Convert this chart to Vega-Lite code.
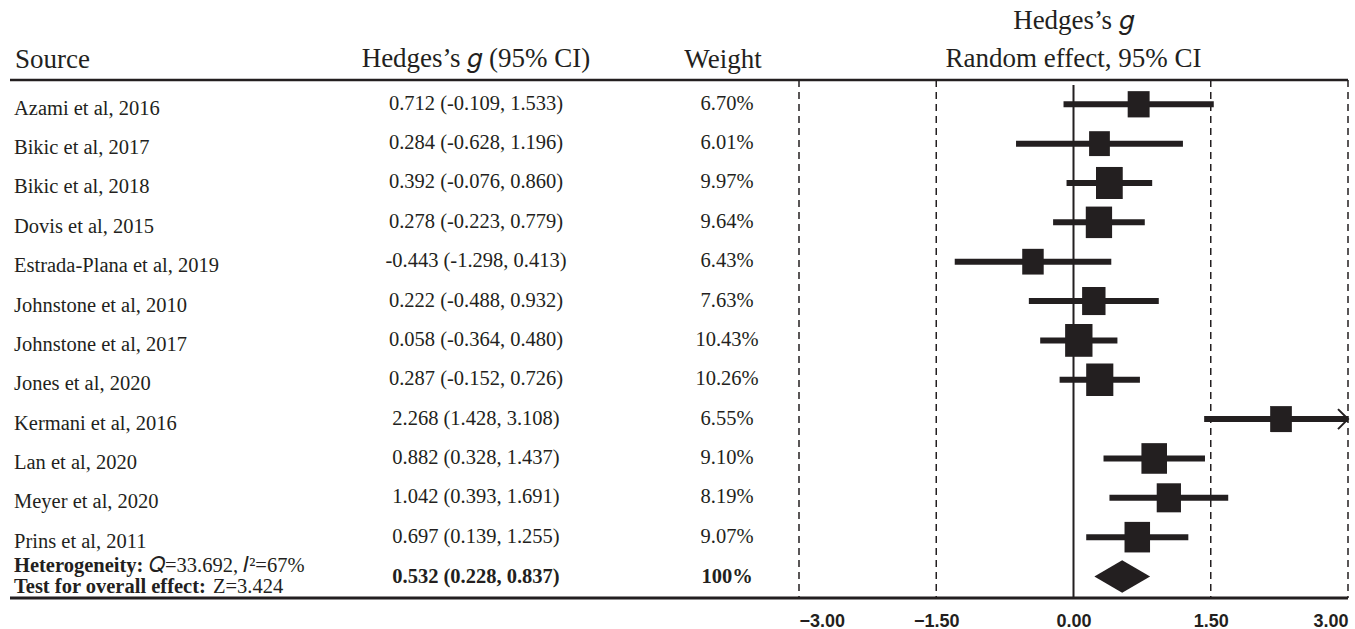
{
  "$schema": "https://vega.github.io/schema/vega-lite/v6.json",
  "background": "white",
  "padding": {"left": 8, "right": 9, "top": 6, "bottom": 2},
  "spacing": 0,
  "bounds": "flush",
  "config": {"view": {"stroke": null}, "font": "Liberation Serif"},
  "datasets": {
    "studies": [
      {"row": 1, "source": "Azami et al, 2016", "g": 0.712, "lo": -0.109, "hi": 1.533, "w": 6.70, "ci": "0.712 (-0.109, 1.533)", "wt": "6.70%"},
      {"row": 2, "source": "Bikic et al, 2017", "g": 0.284, "lo": -0.628, "hi": 1.196, "w": 6.01, "ci": "0.284 (-0.628, 1.196)", "wt": "6.01%"},
      {"row": 3, "source": "Bikic et al, 2018", "g": 0.392, "lo": -0.076, "hi": 0.860, "w": 9.97, "ci": "0.392 (-0.076, 0.860)", "wt": "9.97%"},
      {"row": 4, "source": "Dovis et al, 2015", "g": 0.278, "lo": -0.223, "hi": 0.779, "w": 9.64, "ci": "0.278 (-0.223, 0.779)", "wt": "9.64%"},
      {"row": 5, "source": "Estrada-Plana et al, 2019", "g": -0.443, "lo": -1.298, "hi": 0.413, "w": 6.43, "ci": "-0.443 (-1.298, 0.413)", "wt": "6.43%"},
      {"row": 6, "source": "Johnstone et al, 2010", "g": 0.222, "lo": -0.488, "hi": 0.932, "w": 7.63, "ci": "0.222 (-0.488, 0.932)", "wt": "7.63%"},
      {"row": 7, "source": "Johnstone et al, 2017", "g": 0.058, "lo": -0.364, "hi": 0.480, "w": 10.43, "ci": "0.058 (-0.364, 0.480)", "wt": "10.43%"},
      {"row": 8, "source": "Jones et al, 2020", "g": 0.287, "lo": -0.152, "hi": 0.726, "w": 10.26, "ci": "0.287 (-0.152, 0.726)", "wt": "10.26%"},
      {"row": 9, "source": "Kermani et al, 2016", "g": 2.268, "lo": 1.428, "hi": 3.108, "w": 6.55, "ci": "2.268 (1.428, 3.108)", "wt": "6.55%"},
      {"row": 10, "source": "Lan et al, 2020", "g": 0.882, "lo": 0.328, "hi": 1.437, "w": 9.10, "ci": "0.882 (0.328, 1.437)", "wt": "9.10%"},
      {"row": 11, "source": "Meyer et al, 2020", "g": 1.042, "lo": 0.393, "hi": 1.691, "w": 8.19, "ci": "1.042 (0.393, 1.691)", "wt": "8.19%"},
      {"row": 12, "source": "Prins et al, 2011", "g": 0.697, "lo": 0.139, "hi": 1.255, "w": 9.07, "ci": "0.697 (0.139, 1.255)", "wt": "9.07%"}
    ],
    "summary": [
      {"row": 13, "g": 0.532, "lo": 0.228, "hi": 0.837, "ci": "0.532 (0.228, 0.837)", "wt": "100%", "het_label": "Heterogeneity:", "het_val": "𝑄=33.692, 𝐼²=67%", "test_label": "Test for overall effect:", "test_val": "Z=3.424"}
    ],
    "refs": [{"v": -3}, {"v": -1.5}, {"v": 1.5}, {"v": 3}]
  },
  "hconcat": [
    {
      "width": 287,
      "height": 518,
      "title": {"text": "Source", "anchor": "start", "dx": 5, "fontSize": 27, "font": "Liberation Serif", "fontWeight": "normal", "color": "#231f20", "frame": "group", "offset": 5},
      "layer": [
        {
          "data": {"name": "studies"},
          "mark": {"type": "text", "align": "left", "baseline": "middle", "dx": 4, "dy": 4.5, "fontSize": 20.5, "font": "Liberation Serif", "color": "#231f20"},
          "encoding": {
            "x": {"datum": 0, "type": "quantitative", "scale": {"domain": [0, 1]}, "axis": null},
            "y": {"field": "row", "type": "quantitative", "scale": {"domain": [0.383, 13.546], "reverse": true, "nice": false, "zero": false}, "axis": null},
            "text": {"field": "source"}
          }
        },
        {
          "data": {"name": "summary"},
          "mark": {"type": "text", "align": "left", "baseline": "middle", "dx": 4, "dy": -10.5, "fontSize": 20.5, "fontWeight": "bold", "font": "Liberation Serif", "color": "#231f20"},
          "encoding": {
            "x": {"datum": 0, "type": "quantitative", "scale": {"domain": [0, 1]}, "axis": null},
            "y": {"field": "row", "type": "quantitative", "scale": {"domain": [0.383, 13.546], "reverse": true, "nice": false, "zero": false}, "axis": null},
            "text": {"field": "het_label"}
          }
        },
        {
          "data": {"name": "summary"},
          "mark": {"type": "text", "align": "left", "baseline": "middle", "dx": 139, "dy": -10.5, "fontSize": 20.5, "font": "Liberation Serif", "color": "#231f20"},
          "encoding": {
            "x": {"datum": 0, "type": "quantitative", "scale": {"domain": [0, 1]}, "axis": null},
            "y": {"field": "row", "type": "quantitative", "scale": {"domain": [0.383, 13.546], "reverse": true, "nice": false, "zero": false}, "axis": null},
            "text": {"field": "het_val"}
          }
        },
        {
          "data": {"name": "summary"},
          "mark": {"type": "text", "align": "left", "baseline": "middle", "dx": 4, "dy": 10.5, "fontSize": 20.5, "fontWeight": "bold", "font": "Liberation Serif", "color": "#231f20"},
          "encoding": {
            "x": {"datum": 0, "type": "quantitative", "scale": {"domain": [0, 1]}, "axis": null},
            "y": {"field": "row", "type": "quantitative", "scale": {"domain": [0.383, 13.546], "reverse": true, "nice": false, "zero": false}, "axis": null},
            "text": {"field": "test_label"}
          }
        },
        {
          "data": {"name": "summary"},
          "mark": {"type": "text", "align": "left", "baseline": "middle", "dx": 203, "dy": 10.5, "fontSize": 20.5, "font": "Liberation Serif", "color": "#231f20"},
          "encoding": {
            "x": {"datum": 0, "type": "quantitative", "scale": {"domain": [0, 1]}, "axis": null},
            "y": {"field": "row", "type": "quantitative", "scale": {"domain": [0.383, 13.546], "reverse": true, "nice": false, "zero": false}, "axis": null},
            "text": {"field": "test_val"}
          }
        },
        {
          "data": {"name": "summary"},
          "mark": {"type": "rule", "strokeWidth": 2.5, "color": "#231f20"},
          "encoding": {"y": {"datum": 0.383, "type": "quantitative", "scale": {"domain": [0.383, 13.546], "reverse": true, "nice": false, "zero": false}, "axis": null}}
        },
        {
          "data": {"name": "summary"},
          "mark": {"type": "rule", "strokeWidth": 3, "color": "#231f20"},
          "encoding": {"y": {"datum": 13.546, "type": "quantitative", "scale": {"domain": [0.383, 13.546], "reverse": true, "nice": false, "zero": false}, "axis": null}}
        }
      ]
    },
    {
      "width": 358,
      "height": 518,
      "title": {"text": "Hedges’s 𝑔 (95% CI)", "anchor": "middle", "fontSize": 27, "font": "Liberation Serif", "fontWeight": "normal", "color": "#231f20", "frame": "group", "offset": 6},
      "layer": [
        {
          "data": {"name": "studies"},
          "mark": {"type": "text", "align": "center", "baseline": "middle", "dy": -0.5, "fontSize": 20.5, "font": "Liberation Serif", "color": "#231f20"},
          "encoding": {
            "y": {"field": "row", "type": "quantitative", "scale": {"domain": [0.383, 13.546], "reverse": true, "nice": false, "zero": false}, "axis": null},
            "text": {"field": "ci"}
          }
        },
        {
          "data": {"name": "summary"},
          "mark": {"type": "text", "align": "center", "baseline": "middle", "dy": 0, "fontSize": 20.5, "fontWeight": "bold", "font": "Liberation Serif", "color": "#231f20"},
          "encoding": {
            "y": {"field": "row", "type": "quantitative", "scale": {"domain": [0.383, 13.546], "reverse": true, "nice": false, "zero": false}, "axis": null},
            "text": {"field": "ci"}
          }
        },
        {
          "data": {"name": "summary"},
          "mark": {"type": "rule", "strokeWidth": 2.5, "color": "#231f20"},
          "encoding": {"y": {"datum": 0.383, "type": "quantitative", "scale": {"domain": [0.383, 13.546], "reverse": true, "nice": false, "zero": false}, "axis": null}}
        },
        {
          "data": {"name": "summary"},
          "mark": {"type": "rule", "strokeWidth": 3, "color": "#231f20"},
          "encoding": {"y": {"datum": 13.546, "type": "quantitative", "scale": {"domain": [0.383, 13.546], "reverse": true, "nice": false, "zero": false}, "axis": null}}
        }
      ]
    },
    {
      "width": 144,
      "height": 518,
      "title": {"text": "Weight", "anchor": "middle", "dx": -4, "fontSize": 27, "font": "Liberation Serif", "fontWeight": "normal", "color": "#231f20", "frame": "group", "offset": 5},
      "layer": [
        {
          "data": {"name": "studies"},
          "mark": {"type": "text", "align": "center", "baseline": "middle", "dy": -0.5, "fontSize": 20.5, "font": "Liberation Serif", "color": "#231f20"},
          "encoding": {
            "y": {"field": "row", "type": "quantitative", "scale": {"domain": [0.383, 13.546], "reverse": true, "nice": false, "zero": false}, "axis": null},
            "text": {"field": "wt"}
          }
        },
        {
          "data": {"name": "summary"},
          "mark": {"type": "text", "align": "center", "baseline": "middle", "dy": 0, "fontSize": 20.5, "fontWeight": "bold", "font": "Liberation Serif", "color": "#231f20"},
          "encoding": {
            "y": {"field": "row", "type": "quantitative", "scale": {"domain": [0.383, 13.546], "reverse": true, "nice": false, "zero": false}, "axis": null},
            "text": {"field": "wt"}
          }
        },
        {
          "data": {"name": "summary"},
          "mark": {"type": "rule", "strokeWidth": 2.5, "color": "#231f20"},
          "encoding": {"y": {"datum": 0.383, "type": "quantitative", "scale": {"domain": [0.383, 13.546], "reverse": true, "nice": false, "zero": false}, "axis": null}}
        },
        {
          "data": {"name": "summary"},
          "mark": {"type": "rule", "strokeWidth": 3, "color": "#231f20"},
          "encoding": {"y": {"datum": 13.546, "type": "quantitative", "scale": {"domain": [0.383, 13.546], "reverse": true, "nice": false, "zero": false}, "axis": null}}
        }
      ]
    },
    {
      "width": 549,
      "height": 518,
      "title": {"text": ["Hedges’s 𝑔", "Random effect, 95% CI"], "anchor": "middle", "fontSize": 27, "lineHeight": 38, "font": "Liberation Serif", "fontWeight": "normal", "color": "#231f20", "frame": "group", "offset": 6},
      "layer": [
        {
          "data": {"name": "refs"},
          "mark": {"type": "rule", "strokeDash": [7, 5], "strokeWidth": 1.5, "color": "#231f20"},
          "encoding": {
            "x": {"field": "v", "type": "quantitative", "scale": {"domain": [-3, 3], "nice": false, "zero": false},
              "axis": {"values": [-3, -1.5, 0, 1.5, 3], "format": ".2f", "orient": "bottom", "labelFont": "Liberation Sans", "labelFontWeight": "bold", "labelFontSize": 18, "labelColor": "#231f20", "domain": false, "ticks": false, "grid": false, "title": null, "labelPadding": 14, "labelFlush": true}}
          }
        },
        {
          "data": {"name": "summary"},
          "mark": {"type": "rule", "strokeWidth": 2, "color": "#231f20"},
          "encoding": {
            "x": {"datum": 0, "type": "quantitative", "scale": {"domain": [-3, 3], "nice": false, "zero": false},
              "axis": {"values": [-3, -1.5, 0, 1.5, 3], "format": ".2f", "orient": "bottom", "labelFont": "Liberation Sans", "labelFontWeight": "bold", "labelFontSize": 18, "labelColor": "#231f20", "domain": false, "ticks": false, "grid": false, "title": null, "labelPadding": 14, "labelFlush": true}},
            "y": {"datum": 0.51, "type": "quantitative", "scale": {"domain": [0.383, 13.546], "reverse": true, "nice": false, "zero": false}, "axis": null},
            "y2": {"datum": 13.546}
          }
        },
        {
          "data": {"name": "summary"},
          "mark": {"type": "rule", "strokeWidth": 2.5, "color": "#231f20"},
          "encoding": {"y": {"datum": 0.383, "type": "quantitative", "scale": {"domain": [0.383, 13.546], "reverse": true, "nice": false, "zero": false}, "axis": null}}
        },
        {
          "data": {"name": "summary"},
          "mark": {"type": "rule", "strokeWidth": 3, "color": "#231f20"},
          "encoding": {"y": {"datum": 13.546, "type": "quantitative", "scale": {"domain": [0.383, 13.546], "reverse": true, "nice": false, "zero": false}, "axis": null}}
        },
        {
          "data": {"name": "studies"},
          "mark": {"type": "rule", "strokeWidth": 6, "color": "#231f20", "clip": true},
          "encoding": {
            "x": {"field": "lo", "type": "quantitative", "scale": {"domain": [-3, 3], "nice": false, "zero": false},
              "axis": {"values": [-3, -1.5, 0, 1.5, 3], "format": ".2f", "orient": "bottom", "labelFont": "Liberation Sans", "labelFontWeight": "bold", "labelFontSize": 18, "labelColor": "#231f20", "domain": false, "ticks": false, "grid": false, "title": null, "labelPadding": 14, "labelFlush": true}},
            "x2": {"field": "hi"},
            "y": {"field": "row", "type": "quantitative", "scale": {"domain": [0.383, 13.546], "reverse": true, "nice": false, "zero": false}, "axis": null}
          }
        },
        {
          "data": {"name": "studies"},
          "mark": {"type": "point", "shape": "M-0.835,-1H0.835V1H-0.835Z", "filled": true, "opacity": 1, "color": "#231f20", "strokeWidth": 0},
          "encoding": {
            "x": {"field": "g", "type": "quantitative", "scale": {"domain": [-3, 3], "nice": false, "zero": false},
              "axis": {"values": [-3, -1.5, 0, 1.5, 3], "format": ".2f", "orient": "bottom", "labelFont": "Liberation Sans", "labelFontWeight": "bold", "labelFontSize": 18, "labelColor": "#231f20", "domain": false, "ticks": false, "grid": false, "title": null, "labelPadding": 14, "labelFlush": true}},
            "y": {"field": "row", "type": "quantitative", "scale": {"domain": [0.383, 13.546], "reverse": true, "nice": false, "zero": false}, "axis": null},
            "size": {"field": "w", "type": "quantitative", "scale": {"domain": [0, 10], "range": [0, 1030], "zero": true}, "legend": null}
          }
        },
        {
          "data": {"name": "studies"},
          "transform": [{"filter": "datum.hi > 3"}],
          "mark": {"type": "point", "shape": "M-1,-1L0,0L-1,1", "filled": false, "size": 400, "strokeWidth": 2, "color": "#231f20", "opacity": 1},
          "encoding": {
            "x": {"datum": 3, "type": "quantitative", "scale": {"domain": [-3, 3], "nice": false, "zero": false},
              "axis": {"values": [-3, -1.5, 0, 1.5, 3], "format": ".2f", "orient": "bottom", "labelFont": "Liberation Sans", "labelFontWeight": "bold", "labelFontSize": 18, "labelColor": "#231f20", "domain": false, "ticks": false, "grid": false, "title": null, "labelPadding": 14, "labelFlush": true}},
            "y": {"field": "row", "type": "quantitative", "scale": {"domain": [0.383, 13.546], "reverse": true, "nice": false, "zero": false}, "axis": null}
          }
        },
        {
          "data": {"name": "summary"},
          "transform": [
            {"fold": ["lo", "g", "hi"], "as": ["k", "xv"]},
            {"calculate": "datum.k === 'g' ? 0.415 : 0", "as": "h"},
            {"calculate": "datum.row - datum.h", "as": "y1"},
            {"calculate": "datum.row + datum.h", "as": "y2"}
          ],
          "mark": {"type": "area", "orient": "vertical", "color": "#231f20", "opacity": 1},
          "encoding": {
            "x": {"field": "xv", "type": "quantitative", "scale": {"domain": [-3, 3], "nice": false, "zero": false},
              "axis": {"values": [-3, -1.5, 0, 1.5, 3], "format": ".2f", "orient": "bottom", "labelFont": "Liberation Sans", "labelFontWeight": "bold", "labelFontSize": 18, "labelColor": "#231f20", "domain": false, "ticks": false, "grid": false, "title": null, "labelPadding": 14, "labelFlush": true}},
            "y": {"field": "y1", "type": "quantitative", "stack": null, "scale": {"domain": [0.383, 13.546], "reverse": true, "nice": false, "zero": false}, "axis": null},
            "y2": {"field": "y2"}
          }
        }
      ]
    }
  ]
}
